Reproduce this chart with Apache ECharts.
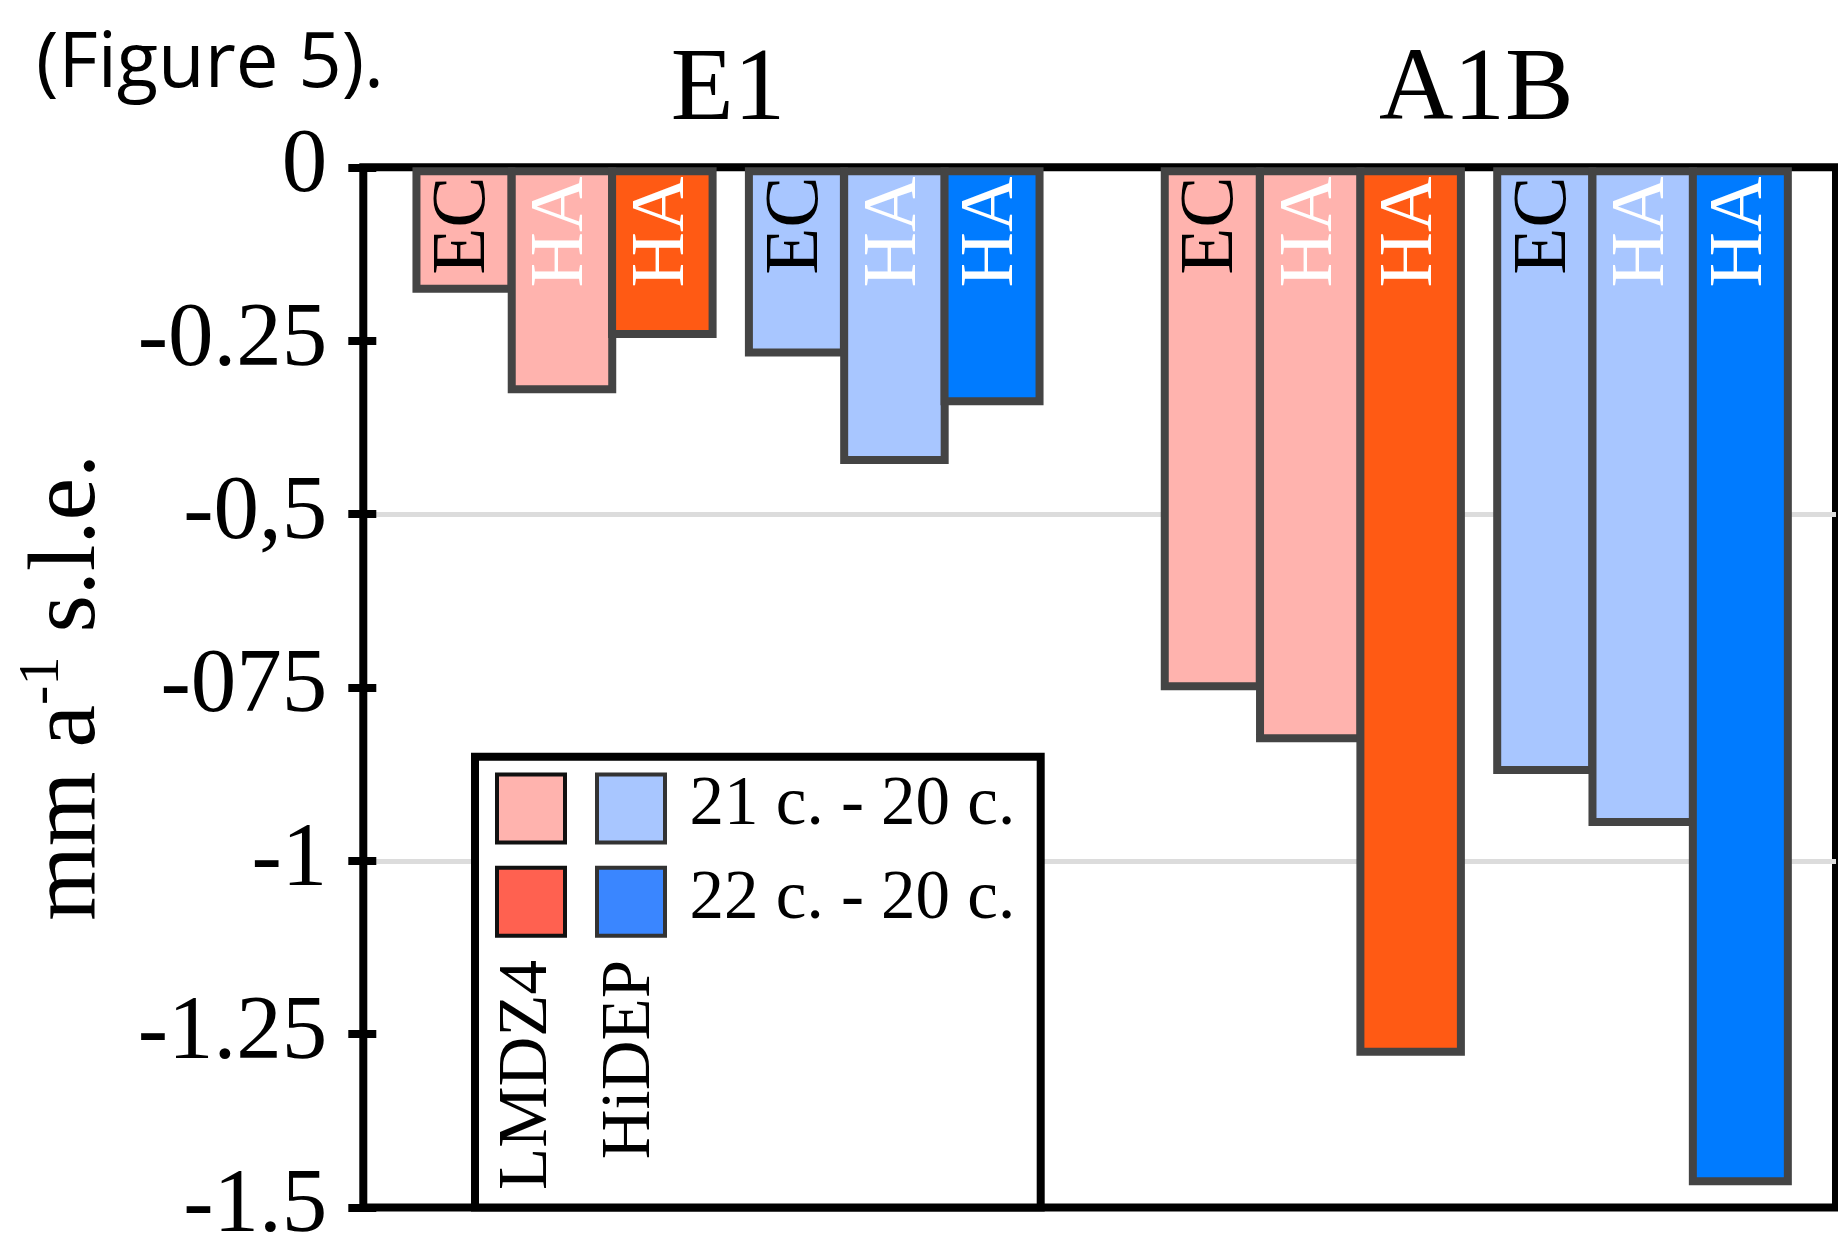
<!DOCTYPE html>
<html><head><meta charset="utf-8">
<script src="https://cdn.jsdelivr.net/npm/echarts@6/dist/echarts.min.js"></script>
<style>html,body{margin:0;padding:0;background:#fff}#c{width:1838px;height:1234px}</style>
</head><body><div id="c"></div>
<script>
// ---- data ----
const scenarios = ['E1', 'A1B'];
const lmdzEC    = [-0.181, -0.754];
const lmdzHA21  = [-0.326, -0.829];
const lmdzHA22  = [-0.246, -1.281];
const hidepEC   = [-0.273, -0.875];
const hidepHA21 = [-0.428, -0.950];
const hidepHA22 = [-0.343, -1.468];
const tickLabels = ['0', '-0.25', '-0,5', '-075', '-1', '-1.25', '-1.5'];
const legendRows = ['21 c. - 20 c.', '22 c. - 20 c.'];
const modelNames = ['LMDZ4', 'HiDEP'];
const figureNote = '(Figure 5).';

// ---- styles ----
const SERIF = "'Liberation Serif', 'Times New Roman', serif";
const C_L21 = '#FFB3AE', C_L22 = '#FF5A14', C_H21 = '#A8C6FF', C_H22 = '#007BFF';
const GAP = '-7.5%';

function bar(name, data, color, width, text, textColor) {
  return {
    type: 'bar', name, data, xAxisIndex: 0, yAxisIndex: 0,
    barWidth: width, barGap: GAP, animation: false,
    itemStyle: { color, borderColor: '#444', borderWidth: 8 },
    emphasis: { disabled: true },
    label: {
      show: true, position: 'insideTop', distance: 9, rotate: 90,
      align: 'right', verticalAlign: 'middle', formatter: text,
      color: textColor, fontFamily: SERIF, fontSize: 77
    }
  };
}

const chart = echarts.init(document.getElementById('c'), null, { renderer: 'canvas' });
chart.setOption({
  animation: false,
  backgroundColor: '#fff',
  grid: [
    { left: 353.85, top: 167.3, width: 1496.6, bottom: 26.5, containLabel: false, outerBoundsMode: 'none' },
    { left: 363.3, top: 167.3, right: 2, bottom: 26.5, containLabel: false, outerBoundsMode: 'none',
      show: true, borderColor: '#000', borderWidth: 8, backgroundColor: 'transparent' }
  ],
  xAxis: [
    { type: 'category', gridIndex: 0, data: scenarios, position: 'top',
      axisLine: { show: false, onZero: false }, axisTick: { show: false }, splitLine: { show: false },
      axisLabel: { interval: 0, margin: 24, fontSize: 103, fontFamily: SERIF, color: '#000' } },
    { type: 'value', gridIndex: 1, show: false, min: 0, max: 1 }
  ],
  yAxis: [
    { type: 'value', gridIndex: 0, min: -1.5, max: 0, show: false },
    { type: 'value', gridIndex: 1, min: -1.5, max: 0, interval: 0.25, position: 'left',
      axisLine: { show: false, onZero: false },
      axisTick: { show: true, length: 15, lineStyle: { color: '#000', width: 8 } },
      splitLine: { show: false },
      axisLabel: { margin: 36, fontSize: 91, fontFamily: SERIF, color: '#000',
        showMinLabel: true, showMaxLabel: true,
        formatter: v => tickLabels[Math.round(-v / 0.25)] },
      name: '{n|mm a}{s|-1}{n| s.l.e.}', nameLocation: 'middle', nameRotate: 90, nameGap: 240,
      nameMoveOverlap: false,
      nameTextStyle: { rich: {
        n: { fontSize: 96, fontFamily: SERIF, lineHeight: 110, color: '#000' },
        s: { fontSize: 58, fontFamily: SERIF, lineHeight: 68, verticalAlign: 'top', color: '#000' }
      } } },
    { type: 'value', gridIndex: 1, min: -1.5, max: 0, interval: 0.25, position: 'left',
      axisLine: { show: false, onZero: false },
      axisTick: { show: true, inside: true, length: 13, lineStyle: { color: '#000', width: 8 } },
      axisLabel: { show: false }, splitLine: { show: false } },
    { type: 'value', gridIndex: 1, min: -1.5, max: 0, interval: 0.5, position: 'left',
      axisLine: { show: false, onZero: false }, axisTick: { show: false }, axisLabel: { show: false },
      splitLine: { show: true, showMinLine: false, showMaxLine: false,
        lineStyle: { color: '#DCDCDC', width: 5 } } }
  ],
  series: [
    bar('LMDZ4 EC', lmdzEC, C_L21, 103, 'EC', '#000'),
    bar('LMDZ4 HA 21c', lmdzHA21, C_L21, 108.5, 'HA', '#fff'),
    bar('LMDZ4 HA 22c', lmdzHA22, C_L22, 108.5, 'HA', '#fff'),
    { type: 'bar', name: 'gap', data: [null, null], barWidth: 39.4, barGap: GAP, silent: true,
      itemStyle: { color: 'transparent' } },
    bar('HiDEP EC', hidepEC, C_H21, 103, 'EC', '#000'),
    bar('HiDEP HA 21c', hidepHA21, C_H21, 108.5, 'HA', '#fff'),
    bar('HiDEP HA 22c', hidepHA22, C_H22, 103, 'HA', '#fff')
  ],
  graphic: [
    { type: 'text', z: 100, x: 36, y: 65,
      style: { text: figureNote, fontSize: 76, fontFamily: "'Open Sans', sans-serif", fill: '#000', align: 'left', verticalAlign: 'middle' } },
    { type: 'rect', z: 100, shape: { x: 475, y: 756.7, width: 565.7, height: 450.8 },
      style: { fill: '#fff', stroke: '#000', lineWidth: 8 } },
    { type: 'rect', z: 101, shape: { x: 497, y: 774.5, width: 68, height: 68 }, style: { fill: C_L21, stroke: '#111', lineWidth: 4 } },
    { type: 'rect', z: 101, shape: { x: 597, y: 774.5, width: 68, height: 68 }, style: { fill: C_H21, stroke: '#333', lineWidth: 4 } },
    { type: 'rect', z: 101, shape: { x: 497, y: 867.7, width: 68, height: 68 }, style: { fill: '#FF6150', stroke: '#111', lineWidth: 4 } },
    { type: 'rect', z: 101, shape: { x: 597, y: 867.7, width: 68, height: 68 }, style: { fill: '#3A86FF', stroke: '#333', lineWidth: 4 } },
    { type: 'text', z: 101, x: 689.5, y: 806,
      style: { text: legendRows[0], fontSize: 69, fontFamily: SERIF, fill: '#000', align: 'left', verticalAlign: 'middle' } },
    { type: 'text', z: 101, x: 689.5, y: 900,
      style: { text: legendRows[1], fontSize: 69, fontFamily: SERIF, fill: '#000', align: 'left', verticalAlign: 'middle' } },
    { type: 'text', z: 101, x: 528, y: 960, rotation: Math.PI / 2,
      style: { text: modelNames[0], fontSize: 69, fontFamily: SERIF, fill: '#000', align: 'right', verticalAlign: 'middle' } },
    { type: 'text', z: 101, x: 630.7, y: 960, rotation: Math.PI / 2,
      style: { text: modelNames[1], fontSize: 69, fontFamily: SERIF, fill: '#000', align: 'right', verticalAlign: 'middle' } }
  ]
});
</script></body></html>
